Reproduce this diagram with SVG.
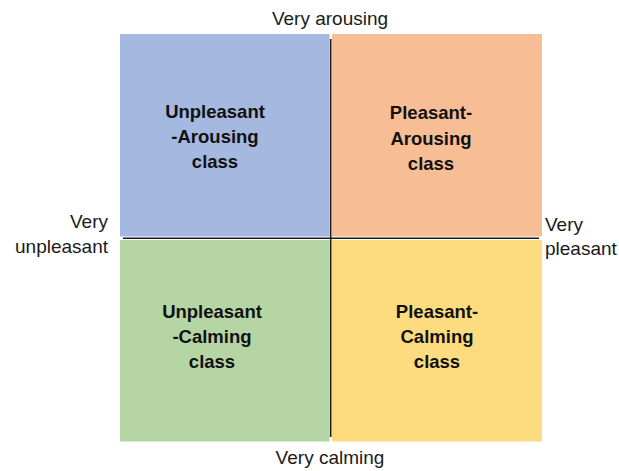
<svg xmlns="http://www.w3.org/2000/svg" width="619" height="471" viewBox="0 0 619 471">
<style>
.axis{font-family:"Liberation Sans",Arial,sans-serif;font-size:19px;fill:#1a1a1a}
.q{font-family:"Liberation Sans",Arial,sans-serif;font-size:18.5px;font-weight:bold;fill:#111;text-anchor:middle}
.line{stroke:#1a1a1a;stroke-width:1.6;fill:none}
</style>
<rect width="619" height="471" fill="#ffffff"/>
<g id="q-unpleasant-arousing">
<rect x="120" y="34" width="209.5" height="202.5" fill="#A5B8DF"/>
<text class="q" x="215" y="118">Unpleasant</text>
<text class="q" x="215" y="143">-Arousing</text>
<text class="q" x="215" y="168">class</text>
</g>
<g id="q-pleasant-arousing">
<rect x="332" y="34" width="210" height="202.5" fill="#F7BD95"/>
<text class="q" x="431" y="119">Pleasant-</text>
<text class="q" x="431" y="145">Arousing</text>
<text class="q" x="431" y="170">class</text>
</g>
<g id="q-unpleasant-calming">
<rect x="120" y="240" width="209.5" height="201.5" fill="#B6D5A5"/>
<text class="q" x="212" y="318">Unpleasant</text>
<text class="q" x="212" y="343">-Calming</text>
<text class="q" x="212" y="368">class</text>
</g>
<g id="q-pleasant-calming">
<rect x="332" y="240" width="210" height="201.5" fill="#FCDC7E"/>
<text class="q" x="437" y="318">Pleasant-</text>
<text class="q" x="437" y="343">Calming</text>
<text class="q" x="437" y="368">class</text>
</g>
<g id="connectors">
<line class="line" x1="330.7" y1="39" x2="330.7" y2="437"/>
<line class="line" x1="123" y1="238.3" x2="539" y2="238.3"/>
</g>
<g id="labels">
<text class="axis" x="330" y="25" text-anchor="middle">Very arousing</text>
<text class="axis" x="330" y="464" text-anchor="middle">Very calming</text>
<text class="axis" x="108" y="228" text-anchor="end">Very</text>
<text class="axis" x="108" y="253" text-anchor="end">unpleasant</text>
<text class="axis" x="545" y="231">Very</text>
<text class="axis" x="545" y="255">pleasant</text>
</g>
</svg>
